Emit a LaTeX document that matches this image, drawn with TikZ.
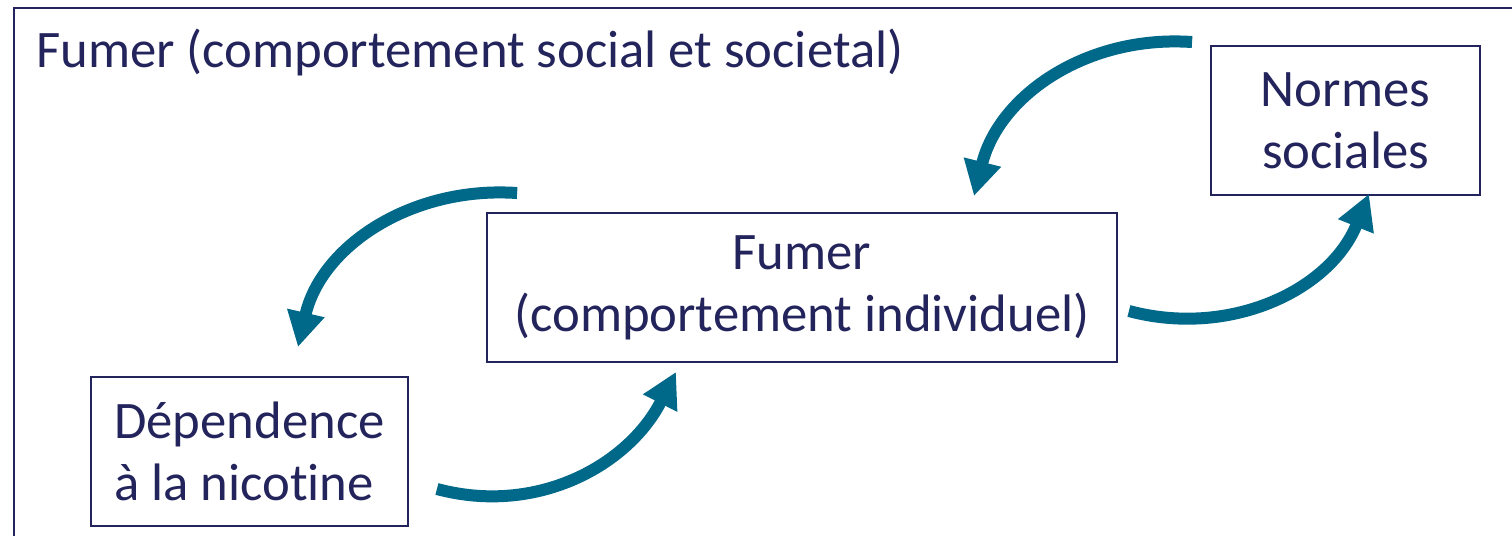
\documentclass[tikz,border=0pt]{standalone}
\usepackage{fontspec}
\setmainfont{Carlito}[Ligatures=NoCommon]
\usepackage{xcolor}
\usepackage{tikz}
\usetikzlibrary{positioning,arrows.meta}
\definecolor{inkblue}{RGB}{36,36,92}
\definecolor{loopteal}{RGB}{0,104,137}
\newcommand{\bigfont}{\fontsize{30}{35.3}\selectfont}

\begin{document}
\begin{tikzpicture}[x=0.02cm, y=0.02cm,
  box/.style={draw=inkblue, line width=1.1pt, text=inkblue, inner sep=0pt,
              minimum height=2.98cm, font=\bigfont},
  loop/.style={draw=loopteal, line width=0.24cm,
               -{Triangle[length=0.7cm, width=0.72cm]}}]
% canvas — pixel-like units, y up
\useasboundingbox (0,0) rectangle (1512,536);

% 1. Outer frame (only top and left edge inside the page)
\draw[inkblue, line width=1.1pt] (14,-30) -- (14,528) -- (1560,528);
\node[anchor=base west, text=inkblue, font=\bigfont] (title) at (30,468)
  {Fumer (comportement social et societal)};

% 2. Boxes
\node[box, minimum width=5.38cm, align=center] (normes) at (1345.5,415.5)
  {Normes\\sociales};
\node[box, minimum width=12.6cm, align=center] (fumer) at (802,248.5)
  {Fumer\\(comportement individuel)};
\node[box, minimum width=6.34cm, align=left] (dep) at (249.5,84.5)
  {Dépendence\\à la nicotine};

% 3. Loop arrows — free ends as coordinates near the boxes
\coordinate (normes-out) at ([shift={(-18,3)}]normes.north west);
\coordinate (fumer-in1)  at ([shift={(172,16)}]fumer.north);
\coordinate (fumer-out1) at ([shift={(31,19)}]fumer.north west);
\coordinate (dep-in)     at ([shift={(48.5,29)}]dep.north);
\coordinate (dep-out)    at ([shift={(28,-37.5)}]dep.east);
\coordinate (fumer-in2)  at ([shift={(-126,-9)}]fumer.south);
\coordinate (fumer-out2) at ([shift={(11,-23.5)}]fumer.east);
\coordinate (normes-in)  at ([shift={(23.5,2)}]normes.south);

\draw[loop] (normes-out) to[out=176, in=76] (fumer-in1);
\draw[loop] (fumer-out1) to[out=176, in=77] (dep-in);
\draw[loop] (dep-out)    to[out=-15, in=243] (fumer-in2);
\draw[loop] (fumer-out2) to[out=-15, in=248] (normes-in);

\end{tikzpicture}
\end{document}
